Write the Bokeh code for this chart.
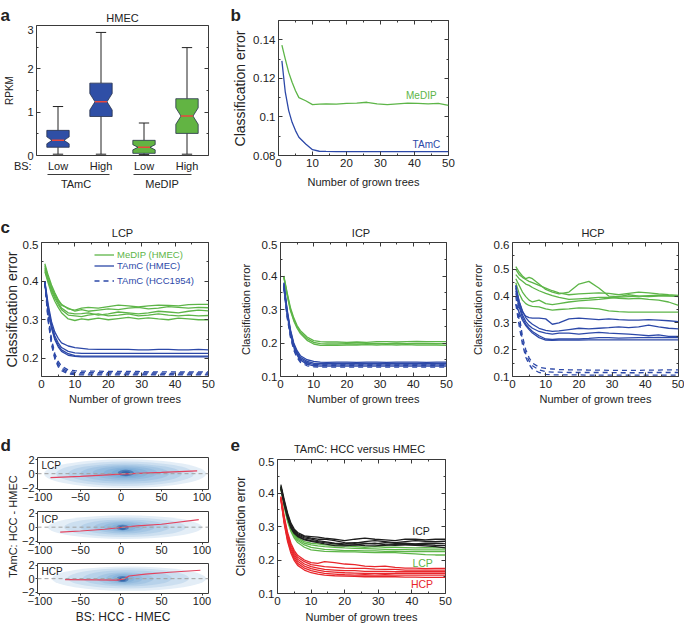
import math
from bokeh.plotting import figure
from bokeh.models import (Range1d, LinearAxis, FixedTicker, Label, Legend, LegendItem,
                          Span, Spacer)
from bokeh.layouts import row, column
from bokeh.embed import file_html
from bokeh.resources import INLINE

FONT = "Liberation Sans"
GREEN = "#5db548"
BLUE = "#2c48a8"
RED = "#e8262b"
BLACK = "#1e1e1e"
TXT = "#222222"
NBSP = "\u00a0"

# ---------------- data ----------------
# panel a (notched box plots, RPKM)
box_group = ["TAmC", "TAmC", "MeDIP", "MeDIP"]
box_bs = ["Low", "High", "Low", "High"]
box_pos = [1, 2, 3, 4]
box_whisk_lo = [0.03, 0.03, 0.02, 0.03]
box_q1 = [0.19, 0.90, 0.05, 0.51]
box_notch_lo = [0.27, 1.05, 0.13, 0.72]
box_med = [0.35, 1.24, 0.19, 0.91]
box_notch_hi = [0.43, 1.43, 0.25, 1.10]
box_q3 = [0.58, 1.67, 0.35, 1.31]
box_whisk_hi = [1.13, 2.84, 0.75, 2.49]
group_names = ["TAmC", "MeDIP"]
group_label_pos = [1.42, 3.42]

# number of grown trees (sampled points)
X = [1, 2, 3, 4, 5, 6, 8, 10, 12, 14, 17, 20, 23, 26, 29, 32, 35, 38, 41, 44, 47, 50]

# panel b
b_medip = [0.1372, 0.1300, 0.1231, 0.1180, 0.1136, 0.1100, 0.1084, 0.1064, 0.1066, 0.1068, 0.1066,
           0.1070, 0.1072, 0.1076, 0.1068, 0.1064, 0.1068, 0.1072, 0.1070, 0.1068, 0.1070, 0.1060]
b_tamc = [0.1291, 0.1128, 0.1033, 0.0972, 0.0929, 0.0895, 0.0860, 0.0830, 0.0822, 0.0821, 0.0820,
          0.0820, 0.0820, 0.0820, 0.0820, 0.0820, 0.0820, 0.0820, 0.0820, 0.0820, 0.0820, 0.0820]

# panel c : LCP
lcp_medip = [
    [0.445, 0.415, 0.390, 0.370, 0.352, 0.340, 0.328, 0.325, 0.330, 0.332, 0.330, 0.334, 0.338, 0.336, 0.333, 0.336, 0.338, 0.337, 0.336, 0.339, 0.340, 0.340],
    [0.440, 0.410, 0.385, 0.365, 0.350, 0.338, 0.330, 0.322, 0.326, 0.322, 0.325, 0.328, 0.326, 0.330, 0.332, 0.328, 0.330, 0.334, 0.332, 0.330, 0.332, 0.331],
    [0.435, 0.405, 0.380, 0.360, 0.345, 0.330, 0.318, 0.315, 0.316, 0.318, 0.312, 0.315, 0.320, 0.318, 0.315, 0.318, 0.322, 0.320, 0.318, 0.322, 0.325, 0.323],
    [0.430, 0.400, 0.375, 0.355, 0.340, 0.326, 0.312, 0.310, 0.308, 0.312, 0.315, 0.310, 0.312, 0.315, 0.310, 0.312, 0.315, 0.312, 0.310, 0.312, 0.310, 0.311],
    [0.425, 0.395, 0.368, 0.348, 0.332, 0.318, 0.302, 0.298, 0.302, 0.300, 0.304, 0.300, 0.303, 0.306, 0.302, 0.305, 0.302, 0.300, 0.304, 0.302, 0.300, 0.300],
]
lcp_tamc = [
    [0.400, 0.340, 0.295, 0.268, 0.252, 0.240, 0.232, 0.228, 0.226, 0.224, 0.223, 0.223, 0.223, 0.223, 0.222, 0.222, 0.223, 0.223, 0.222, 0.222, 0.223, 0.222],
    [0.398, 0.332, 0.288, 0.258, 0.240, 0.228, 0.218, 0.214, 0.213, 0.213, 0.213, 0.213, 0.213, 0.213, 0.213, 0.213, 0.213, 0.213, 0.213, 0.213, 0.213, 0.213],
    [0.395, 0.328, 0.282, 0.252, 0.234, 0.222, 0.212, 0.207, 0.206, 0.206, 0.206, 0.206, 0.206, 0.206, 0.206, 0.206, 0.206, 0.206, 0.206, 0.206, 0.206, 0.206],
    [0.392, 0.322, 0.278, 0.248, 0.230, 0.218, 0.208, 0.205, 0.204, 0.204, 0.204, 0.204, 0.204, 0.204, 0.204, 0.204, 0.204, 0.204, 0.204, 0.204, 0.204, 0.204],
]
lcp_hcc = [
    [0.400, 0.310, 0.250, 0.212, 0.192, 0.180, 0.170, 0.168, 0.167, 0.167, 0.167, 0.166, 0.166, 0.166, 0.166, 0.165, 0.165, 0.165, 0.165, 0.165, 0.165, 0.165],
    [0.398, 0.305, 0.245, 0.206, 0.186, 0.175, 0.166, 0.164, 0.163, 0.163, 0.163, 0.163, 0.162, 0.162, 0.162, 0.162, 0.162, 0.161, 0.162, 0.162, 0.162, 0.162],
    [0.396, 0.300, 0.240, 0.202, 0.182, 0.171, 0.163, 0.160, 0.160, 0.160, 0.160, 0.160, 0.160, 0.159, 0.159, 0.159, 0.159, 0.159, 0.159, 0.159, 0.159, 0.159],
    [0.394, 0.296, 0.235, 0.198, 0.178, 0.168, 0.160, 0.158, 0.157, 0.157, 0.157, 0.157, 0.157, 0.157, 0.157, 0.157, 0.157, 0.157, 0.157, 0.157, 0.157, 0.157],
]

# panel c : ICP
icp_medip = [
    [0.400, 0.350, 0.305, 0.275, 0.252, 0.237, 0.218, 0.207, 0.204, 0.203, 0.203, 0.202, 0.203, 0.202, 0.204, 0.204, 0.203, 0.204, 0.205, 0.204, 0.204, 0.204],
    [0.398, 0.346, 0.300, 0.270, 0.248, 0.232, 0.213, 0.202, 0.198, 0.197, 0.197, 0.198, 0.197, 0.198, 0.199, 0.198, 0.199, 0.198, 0.199, 0.199, 0.198, 0.198],
    [0.396, 0.342, 0.296, 0.266, 0.244, 0.228, 0.208, 0.197, 0.193, 0.193, 0.193, 0.194, 0.194, 0.195, 0.194, 0.195, 0.194, 0.195, 0.194, 0.194, 0.194, 0.193],
]
icp_tamc = [
    [0.380, 0.300, 0.240, 0.200, 0.177, 0.162, 0.150, 0.145, 0.143, 0.142, 0.143, 0.143, 0.142, 0.143, 0.143, 0.142, 0.143, 0.143, 0.143, 0.142, 0.143, 0.143],
    [0.378, 0.296, 0.236, 0.196, 0.172, 0.157, 0.145, 0.140, 0.139, 0.139, 0.139, 0.139, 0.139, 0.139, 0.139, 0.139, 0.139, 0.139, 0.139, 0.139, 0.139, 0.139],
    [0.375, 0.292, 0.232, 0.192, 0.168, 0.153, 0.141, 0.136, 0.135, 0.135, 0.135, 0.135, 0.135, 0.135, 0.135, 0.135, 0.135, 0.135, 0.135, 0.135, 0.135, 0.135],
    [0.372, 0.288, 0.228, 0.188, 0.164, 0.149, 0.137, 0.132, 0.131, 0.131, 0.131, 0.131, 0.131, 0.131, 0.131, 0.131, 0.131, 0.131, 0.131, 0.131, 0.131, 0.131],
]
icp_hcc = [
    [0.370, 0.285, 0.226, 0.187, 0.164, 0.151, 0.141, 0.138, 0.137, 0.137, 0.137, 0.137, 0.137, 0.137, 0.137, 0.137, 0.137, 0.137, 0.137, 0.137, 0.137, 0.137],
    [0.366, 0.280, 0.221, 0.182, 0.160, 0.146, 0.136, 0.133, 0.133, 0.133, 0.133, 0.133, 0.133, 0.133, 0.133, 0.133, 0.133, 0.133, 0.133, 0.133, 0.133, 0.133],
    [0.362, 0.276, 0.217, 0.178, 0.156, 0.142, 0.132, 0.129, 0.128, 0.128, 0.128, 0.128, 0.128, 0.128, 0.128, 0.128, 0.128, 0.128, 0.128, 0.128, 0.128, 0.128],
]

# panel c : HCP
hcp_medip = [
    [0.510, 0.490, 0.475, 0.465, 0.470, 0.465, 0.445, 0.425, 0.415, 0.408, 0.415, 0.445, 0.455, 0.430, 0.400, 0.398, 0.405, 0.400, 0.398, 0.400, 0.400, 0.400],
    [0.500, 0.480, 0.470, 0.462, 0.455, 0.450, 0.440, 0.430, 0.420, 0.412, 0.405, 0.408, 0.410, 0.412, 0.410, 0.405, 0.410, 0.415, 0.412, 0.408, 0.405, 0.403],
    [0.480, 0.465, 0.455, 0.445, 0.440, 0.432, 0.420, 0.410, 0.402, 0.395, 0.388, 0.390, 0.392, 0.395, 0.395, 0.392, 0.390, 0.392, 0.388, 0.385, 0.378, 0.365],
    [0.465, 0.440, 0.415, 0.398, 0.385, 0.378, 0.385, 0.372, 0.368, 0.372, 0.378, 0.382, 0.385, 0.388, 0.392, 0.396, 0.398, 0.400, 0.402, 0.404, 0.402, 0.398],
    [0.450, 0.410, 0.385, 0.372, 0.365, 0.362, 0.360, 0.352, 0.348, 0.350, 0.352, 0.356, 0.355, 0.352, 0.345, 0.342, 0.340, 0.340, 0.340, 0.340, 0.340, 0.340],
]
hcp_tamc = [
    [0.440, 0.380, 0.340, 0.325, 0.320, 0.318, 0.318, 0.315, 0.295, 0.300, 0.315, 0.318, 0.315, 0.312, 0.315, 0.312, 0.310, 0.310, 0.312, 0.310, 0.308, 0.305],
    [0.430, 0.380, 0.345, 0.320, 0.305, 0.295, 0.280, 0.272, 0.268, 0.270, 0.275, 0.280, 0.278, 0.280, 0.282, 0.285, 0.282, 0.285, 0.292, 0.285, 0.280, 0.278],
    [0.420, 0.370, 0.330, 0.305, 0.290, 0.280, 0.268, 0.262, 0.258, 0.262, 0.262, 0.258, 0.262, 0.265, 0.262, 0.260, 0.258, 0.255, 0.252, 0.255, 0.250, 0.250],
    [0.410, 0.360, 0.320, 0.295, 0.280, 0.268, 0.252, 0.240, 0.238, 0.240, 0.240, 0.240, 0.242, 0.245, 0.245, 0.243, 0.244, 0.245, 0.245, 0.246, 0.245, 0.245],
    [0.370, 0.340, 0.310, 0.290, 0.275, 0.262, 0.245, 0.236, 0.235, 0.236, 0.236, 0.236, 0.237, 0.237, 0.237, 0.237, 0.237, 0.237, 0.237, 0.237, 0.237, 0.237],
]
hcp_hcc = [
    [0.440, 0.330, 0.250, 0.200, 0.170, 0.150, 0.135, 0.130, 0.128, 0.126, 0.125, 0.125, 0.124, 0.124, 0.123, 0.123, 0.123, 0.123, 0.124, 0.124, 0.125, 0.125],
    [0.400, 0.310, 0.235, 0.185, 0.158, 0.140, 0.125, 0.118, 0.116, 0.116, 0.115, 0.115, 0.115, 0.115, 0.115, 0.114, 0.114, 0.114, 0.115, 0.115, 0.115, 0.115],
    [0.370, 0.290, 0.220, 0.172, 0.145, 0.128, 0.115, 0.108, 0.106, 0.106, 0.106, 0.106, 0.105, 0.105, 0.105, 0.105, 0.105, 0.105, 0.105, 0.105, 0.105, 0.105],
]

# panel d : density clouds (ellipse layers, outer to inner) and red trend lines
d_names = ["LCP", "ICP", "HCP"]
d_cloud_x = [[5, 5, 5, 5, 5, 6, 6, 6, 6], [5, 5, 5, 4, 3, 3, 2, 2], [10, 9, 8, 5, 4, 3, 2, 2]]
d_cloud_y = [[0.0, 0.0, 0.0, 0.05, 0.1, 0.1, 0.1, 0.1, 0.05],
             [0.0, 0.0, 0.0, 0.0, 0.0, -0.05, -0.05, -0.1],
             [0.0, 0.05, 0.05, 0.0, 0.0, 0.0, -0.05, -0.1]]
d_cloud_w = [[200, 170, 140, 110, 80, 55, 35, 20, 11],
             [190, 150, 110, 75, 50, 30, 16, 8],
             [190, 150, 110, 70, 45, 28, 15, 8]]
d_cloud_h = [[4.0, 3.4, 2.8, 2.3, 1.9, 1.5, 1.2, 0.9, 0.6],
             [3.4, 2.8, 2.2, 1.8, 1.4, 1.1, 0.8, 0.6],
             [3.6, 3.0, 2.4, 1.9, 1.5, 1.2, 0.9, 0.6]]
d_trend_x = [[-87, -50, 0, 50, 94],
             [-75, -50, -20, 0, 20, 50, 96],
             [-69, -30, -5, 3, 10, 30, 60, 98]]
d_trend_y = [[-0.56, -0.38, -0.05, 0.18, 0.40],
             [-0.70, -0.55, -0.30, -0.05, 0.20, 0.42, 1.07],
             [-0.14, -0.18, -0.22, -0.08, 0.40, 0.68, 0.95, 1.25]]

# panel e : TAmC HCC versus HMEC
e_icp = [
    [0.425, 0.380, 0.340, 0.310, 0.292, 0.282, 0.272, 0.270, 0.268, 0.265, 0.262, 0.258, 0.262, 0.265, 0.262, 0.260, 0.258, 0.262, 0.262, 0.260, 0.262, 0.262],
    [0.420, 0.375, 0.335, 0.305, 0.288, 0.278, 0.270, 0.265, 0.262, 0.262, 0.258, 0.252, 0.250, 0.255, 0.258, 0.255, 0.252, 0.255, 0.258, 0.256, 0.255, 0.256],
    [0.418, 0.372, 0.332, 0.302, 0.285, 0.275, 0.266, 0.262, 0.258, 0.255, 0.250, 0.248, 0.252, 0.250, 0.248, 0.252, 0.250, 0.250, 0.248, 0.250, 0.250, 0.249],
    [0.415, 0.368, 0.328, 0.298, 0.282, 0.272, 0.262, 0.258, 0.255, 0.252, 0.248, 0.245, 0.245, 0.248, 0.250, 0.246, 0.244, 0.246, 0.247, 0.246, 0.244, 0.243],
    [0.412, 0.365, 0.325, 0.295, 0.279, 0.270, 0.260, 0.256, 0.252, 0.248, 0.243, 0.242, 0.245, 0.243, 0.242, 0.244, 0.246, 0.245, 0.244, 0.242, 0.240, 0.236],
]
e_lcp = [
    [0.420, 0.370, 0.328, 0.298, 0.278, 0.266, 0.255, 0.250, 0.248, 0.245, 0.244, 0.242, 0.240, 0.238, 0.240, 0.238, 0.238, 0.237, 0.236, 0.237, 0.236, 0.236],
    [0.418, 0.366, 0.324, 0.294, 0.274, 0.262, 0.250, 0.245, 0.242, 0.240, 0.238, 0.236, 0.235, 0.234, 0.233, 0.232, 0.231, 0.231, 0.230, 0.230, 0.230, 0.230],
    [0.415, 0.362, 0.320, 0.290, 0.270, 0.258, 0.245, 0.238, 0.235, 0.232, 0.230, 0.228, 0.228, 0.227, 0.227, 0.226, 0.226, 0.225, 0.225, 0.225, 0.225, 0.225],
    [0.412, 0.358, 0.315, 0.285, 0.265, 0.252, 0.238, 0.230, 0.228, 0.226, 0.225, 0.224, 0.224, 0.223, 0.222, 0.222, 0.222, 0.220, 0.218, 0.216, 0.215, 0.215],
]
e_hcp = [
    [0.390, 0.330, 0.282, 0.250, 0.228, 0.214, 0.200, 0.192, 0.190, 0.195, 0.192, 0.188, 0.186, 0.182, 0.180, 0.182, 0.178, 0.176, 0.176, 0.174, 0.175, 0.175],
    [0.388, 0.325, 0.276, 0.244, 0.222, 0.208, 0.195, 0.186, 0.183, 0.180, 0.178, 0.176, 0.175, 0.175, 0.173, 0.172, 0.172, 0.170, 0.170, 0.170, 0.170, 0.170],
    [0.386, 0.320, 0.270, 0.238, 0.216, 0.202, 0.188, 0.180, 0.176, 0.172, 0.170, 0.168, 0.168, 0.166, 0.166, 0.166, 0.165, 0.165, 0.165, 0.165, 0.165, 0.165],
    [0.384, 0.316, 0.265, 0.232, 0.210, 0.196, 0.182, 0.174, 0.170, 0.166, 0.164, 0.162, 0.161, 0.160, 0.160, 0.160, 0.160, 0.160, 0.160, 0.160, 0.160, 0.160],
    [0.382, 0.312, 0.260, 0.226, 0.204, 0.190, 0.176, 0.168, 0.164, 0.160, 0.158, 0.156, 0.155, 0.156, 0.155, 0.156, 0.155, 0.155, 0.155, 0.155, 0.155, 0.155],
    [0.380, 0.308, 0.255, 0.220, 0.198, 0.184, 0.170, 0.162, 0.158, 0.155, 0.153, 0.152, 0.151, 0.150, 0.150, 0.150, 0.150, 0.149, 0.149, 0.148, 0.148, 0.148],
]

TREE_TICKS = [0, 10, 20, 30, 40, 50]
TREE_MINOR = [5, 15, 25, 35, 45]


# ---------------- helpers ----------------
def style_axis(ax, size="11.5px"):
    ax.major_label_text_font = FONT
    ax.major_label_text_font_size = size
    ax.major_label_text_color = TXT
    ax.axis_label_text_font = FONT
    ax.axis_label_text_font_size = "11px"
    ax.axis_label_text_font_style = "normal"
    ax.axis_label_text_color = TXT
    ax.axis_line_color = None
    ax.major_tick_line_color = "#3a3a3a"
    ax.minor_tick_line_color = "#3a3a3a"
    ax.major_tick_in = 4
    ax.major_tick_out = 0
    ax.minor_tick_in = 2
    ax.minor_tick_out = 0
    ax.major_label_standoff = 3


def make_fig(w, h, xr, yr, left, right, top, bottom):
    p = figure(width=w, height=h, x_range=Range1d(*xr), y_range=Range1d(*yr),
               output_backend="svg", toolbar_location=None, frame_align=False,
               min_border_left=left, min_border_right=right,
               min_border_top=top, min_border_bottom=bottom)
    p.grid.visible = False
    p.outline_line_color = "#3a3a3a"
    p.outline_line_width = 1
    p.background_fill_color = "white"
    p.border_fill_color = "white"
    for ax in p.axis:
        style_axis(ax)
    return p


def strip(w, h):
    s = figure(width=w, height=h, x_range=Range1d(0, w), y_range=Range1d(h, 0),
               output_backend="svg", toolbar_location=None, x_axis_type=None, y_axis_type=None,
               frame_align=False,
               min_border_left=0, min_border_right=0, min_border_top=0, min_border_bottom=0)
    s.outline_line_color = None
    s.grid.visible = False
    s.background_fill_color = "white"
    s.border_fill_color = "white"
    return s


def mirror_axis(p, side, ticks, minor):
    a = LinearAxis(ticker=FixedTicker(ticks=ticks, minor_ticks=minor))
    style_axis(a)
    a.major_label_text_font_size = "1px"
    a.major_label_text_color = None
    a.major_label_standoff = 0
    p.add_layout(a, side)


def lab(p, text, x, y, xu="data", yu="data", size="11px", color=TXT, align="center",
        baseline="middle", bold=False, angle=0.0):
    p.add_layout(Label(x=x, y=y, x_units=xu, y_units=yu, text=text, text_font=FONT,
                       text_font_size=size, text_color=color, text_align=align,
                       text_baseline=baseline, text_font_style="bold" if bold else "normal",
                       angle=angle))


def letter(s, text, x, baseline_y):
    lab(s, text, x, baseline_y, size="17px", bold=True, align="left", baseline="alphabetic")


def tree_axes(p, yt, ym, ylabel_size="11px", ylab_standoff=3, x_lab_standoff=2, yover=None,
              ylabel="Classification error"):
    xa = p.xaxis[0]
    xa.ticker = FixedTicker(ticks=TREE_TICKS, minor_ticks=TREE_MINOR)
    xa.axis_label = "Number of grown trees"
    xa.axis_label_standoff = x_lab_standoff
    ya = p.yaxis[0]
    ya.ticker = FixedTicker(ticks=yt, minor_ticks=ym)
    if ylabel:
        ya.axis_label = ylabel
        ya.axis_label_text_font_size = ylabel_size
        ya.axis_label_standoff = ylab_standoff
    if yover:
        ya.major_label_overrides = yover
    mirror_axis(p, "above", TREE_TICKS, TREE_MINOR)
    mirror_axis(p, "right", yt, ym)


LW = 1.3

# ---------------- panel a ----------------
sa = strip(230, 25)
letter(sa, "a", 0, 15)
lab(sa, "HMEC", 122, 17)

pa = make_fig(230, 175, (0.5, 4.5), (0, 3), 36, 22, 0, 45)
xa = pa.xaxis[0]
xa.ticker = FixedTicker(ticks=[0.5] + box_pos)
overrides = {0.5: "BS:" + NBSP * 9}
overrides.update({pp: s for pp, s in zip(box_pos, box_bs)})
xa.major_label_overrides = overrides
xa.major_label_text_font_size = "11px"
xa.major_tick_in = 0
xa.minor_tick_in = 0
xa.major_label_standoff = 4
ya = pa.yaxis[0]
ya.ticker = FixedTicker(ticks=[0, 1, 2, 3], minor_ticks=[0.5, 1.5, 2.5])
ya.major_label_text_font_size = "11px"
ya.axis_label = "RPKM"
ya.axis_label_text_font_size = "10px"
ya.axis_label_standoff = 9
mirror_axis(pa, "right", [0, 1, 2, 3], [0.5, 1.5, 2.5])

ga = LinearAxis(ticker=FixedTicker(ticks=group_label_pos),
                major_label_overrides={pp: s for pp, s in zip(group_label_pos, group_names)},
                bounds=(0.75, 4.1))
style_axis(ga, size="11px")
ga.major_tick_in = 0
ga.minor_tick_in = 0
ga.axis_line_color = "#3a3a3a"
ga.axis_line_dash = "62 24 58 400"
ga.major_label_standoff = 3
pa.add_layout(ga, "below")

HW, KW, CAPW = 0.26, 0.14, 0.12
fill_for = {"TAmC": "#2f4fa6", "MeDIP": "#62b443"}
xs_list, ys_list, fills = [], [], []
for c, q1, nlo, md, nhi, q3, g in zip(box_pos, box_q1, box_notch_lo, box_med, box_notch_hi, box_q3, box_group):
    xs_list.append([c - HW, c - HW, c - KW, c - HW, c - HW, c + HW, c + HW, c + KW, c + HW, c + HW])
    ys_list.append([q1, nlo, md, nhi, q3, q3, nhi, md, nlo, q1])
    fills.append(fill_for[g])
pa.segment(x0=box_pos, y0=box_q3, x1=box_pos, y1=box_whisk_hi, line_color="#222", line_width=1)
pa.segment(x0=box_pos, y0=box_q1, x1=box_pos, y1=box_whisk_lo, line_color="#222", line_width=1)
pa.segment(x0=[c - CAPW for c in box_pos], y0=box_whisk_hi, x1=[c + CAPW for c in box_pos],
           y1=box_whisk_hi, line_color="#222", line_width=1)
pa.segment(x0=[c - CAPW for c in box_pos], y0=box_whisk_lo, x1=[c + CAPW for c in box_pos],
           y1=box_whisk_lo, line_color="#222", line_width=1)
pa.patches(xs_list, ys_list, fill_color=fills, line_color="#26304a", line_width=0.8)
pa.segment(x0=[c - KW for c in box_pos], y0=box_med, x1=[c + KW for c in box_pos], y1=box_med,
           line_color="#e8483c", line_width=1.5)

# ---------------- panel b ----------------
sb = strip(20, 200)
letter(sb, "b", 0, 15)
lab(sb, "Classification error", 9, 88, size="14px", angle=math.pi / 2)
pb = make_fig(208, 200, (0, 50), (0.08, 0.15), 26, 10, 20, 45)
tree_axes(pb, [0.08, 0.10, 0.12, 0.14], [0.09, 0.11, 0.13, 0.15], ylabel=None,
          x_lab_standoff=6, yover={0.08: "0.08", 0.1: "0.1", 0.12: "0.12", 0.14: "0.14"})
pb.xaxis[0].major_label_standoff = 2
pb.line(X, b_medip, line_color=GREEN, line_width=LW)
pb.line(X, b_tamc, line_color=BLUE, line_width=LW)
lab(pb, "MeDIP", 42, 0.1112, color=GREEN, size="10px")
lab(pb, "TAmC", 43.5, 0.0856, color=BLUE, size="10px")

# ---------------- panel c ----------------
sc1 = strip(236, 40)
letter(sc1, "c", 0, 26.7)
lab(sc1, "LCP", 122, 32)
sc2 = strip(232, 40)
lab(sc2, "ICP", 124.5, 32)
sc3 = strip(216, 40)
lab(sc3, "HCP", 124.5, 32)

p_lcp = make_fig(236, 175, (0, 50), (0.153, 0.5), 36, 28, 2, 39)
tree_axes(p_lcp, [0.2, 0.3, 0.4, 0.5], [0.25, 0.35, 0.45], ylabel_size="14px", ylab_standoff=0)
p_icp = make_fig(232, 175, (0, 50), (0.1, 0.5), 39, 22, 2, 39)
tree_axes(p_icp, [0.1, 0.2, 0.3, 0.4, 0.5], [0.15, 0.25, 0.35, 0.45], ylab_standoff=7)
p_hcp = make_fig(216, 175, (0, 50), (0.1, 0.6), 39, 6, 2, 39)
tree_axes(p_hcp, [0.1, 0.2, 0.3, 0.4, 0.5, 0.6], [0.15, 0.25, 0.35, 0.45, 0.55], ylab_standoff=7)

DASH = "5 4"
legend_renderers = {}
for p, med, tam, hcc, name in [(p_lcp, lcp_medip, lcp_tamc, lcp_hcc, "LCP"),
                               (p_icp, icp_medip, icp_tamc, icp_hcc, "ICP"),
                               (p_hcp, hcp_medip, hcp_tamc, hcp_hcc, "HCP")]:
    for ys in med:
        r = p.line(X, ys, line_color=GREEN, line_width=LW)
        legend_renderers.setdefault((name, "g"), r)
    for ys in tam:
        r = p.line(X, ys, line_color=BLUE, line_width=LW)
        legend_renderers.setdefault((name, "b"), r)
    for ys in hcc:
        r = p.line(X, ys, line_color=BLUE, line_width=LW, line_dash=DASH)
        legend_renderers.setdefault((name, "d"), r)

for key, text, color, ypos in [("g", "MeDIP (HMEC)", GREEN, 116), ("b", "TAmC (HMEC)", BLUE, 105),
                               ("d", "TAmC (HCC1954)", BLUE, 90)]:
    lg = Legend(items=[LegendItem(label=text, renderers=[legend_renderers[("LCP", key)]])],
                location=(53, ypos), padding=0, spacing=0, margin=0,
                border_line_color=None, background_fill_alpha=0,
                label_text_font=FONT, label_text_font_size="9.5px", label_text_color=color,
                glyph_width=20, glyph_height=11, label_height=11, label_standoff=3)
    p_lcp.add_layout(lg)

# ---------------- panel d ----------------
sd = strip(230, 40)
letter(sd, "d", 0, 30)
sdy = strip(18, 171)
lab(sdy, "TAmC: HCC - HMEC", 12, 71, angle=math.pi / 2)

CLOUD = "#2f78c0"
d_specs = [(52, 2, 18), (52, 4, 17), (67, 4, 33)]
d_figs = []
for i, (h, top, bottom) in enumerate(d_specs):
    p = make_fig(212, h, (-103, 108), (-2.2, 2.25), 18, 22, top, bottom)
    xa = p.xaxis[0]
    xa.ticker = FixedTicker(ticks=[-100, -50, 0, 50, 100])
    xa.major_label_overrides = {-100: "\u2212100", -50: "\u221250"}
    ya = p.yaxis[0]
    ya.ticker = FixedTicker(ticks=[-2, 0, 2])
    ya.major_label_overrides = {-2: "\u22122"}
    for ax in (xa, ya):
        ax.major_label_text_font_size = "11px"
        ax.major_tick_in = 0
        ax.major_tick_out = 2
        ax.minor_tick_in = 0
        ax.minor_tick_out = 0
        ax.major_label_standoff = 1
    p.ellipse(x=d_cloud_x[i], y=d_cloud_y[i], width=d_cloud_w[i], height=d_cloud_h[i],
              fill_color=CLOUD, fill_alpha=0.13, line_color=None)
    p.ellipse(x=d_cloud_x[i][-2:], y=d_cloud_y[i][-2:], width=d_cloud_w[i][-2:],
              height=d_cloud_h[i][-2:], fill_color="#0b3c8c", fill_alpha=0.35, line_color=None)
    p.add_layout(Span(location=0, dimension="width", line_color="#a0a0a0",
                      line_dash="4 3", line_width=1))
    p.line(d_trend_x[i], d_trend_y[i], line_color="#e3425e", line_width=1.2)
    fh = h - top - bottom
    lab(p, d_names[i], 4, fh - 2, xu="screen", yu="screen", size="10px", align="left", baseline="top")
    d_figs.append(p)
d_figs[2].xaxis[0].axis_label = "BS: HCC - HMEC"
d_figs[2].xaxis[0].axis_label_text_font_size = "12px"
d_figs[2].xaxis[0].axis_label_standoff = 2

# ---------------- panel e ----------------
se = strip(238, 42)
letter(se, "e", 0, 29)
lab(se, "TAmC: HCC versus HMEC", 129, 33)
pe = make_fig(238, 169, (0, 50), (0.1, 0.5), 43, 23, 2, 33)
tree_axes(pe, [0.1, 0.2, 0.3, 0.4, 0.5], [0.15, 0.25, 0.35, 0.45], ylabel_size="12px",
          ylab_standoff=8, x_lab_standoff=3)
for ys in e_lcp:
    pe.line(X, ys, line_color=GREEN, line_width=LW)
for ys in e_icp:
    pe.line(X, ys, line_color=BLACK, line_width=LW)
for ys in e_hcp:
    pe.line(X, ys, line_color=RED, line_width=LW)
lab(pe, "ICP", 42.7, 0.287, color=BLACK, size="10.5px")
lab(pe, "LCP", 43.2, 0.190, color=GREEN, size="10.5px")
lab(pe, "HCP", 43.0, 0.127, color=RED, size="10.5px")

# ---------------- layout ----------------
row1 = row(column(sa, pa), sb, pb, Spacer(width=226, height=200))
row2 = row(column(sc1, p_lcp), column(sc2, p_icp), column(sc3, p_hcp))
d_block = column(sd, row(sdy, column(*d_figs)))
row3 = row(d_block, column(se, pe), Spacer(width=216, height=211))
lay = column(row1, row2, row3)

open("out.html", "w").write(file_html(lay, INLINE))
